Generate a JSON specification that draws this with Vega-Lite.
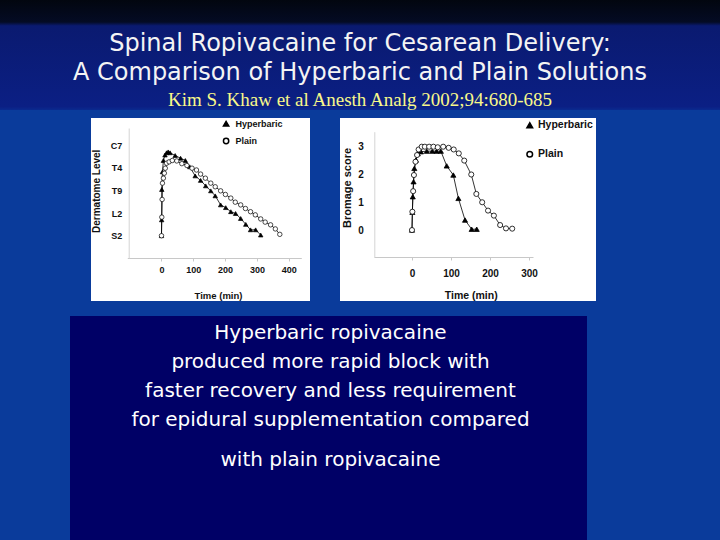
{
  "$schema": "https://vega.github.io/schema/vega-lite/v6.json",
  "background": "#0a3b9b",
  "padding": 0,
  "config": {
    "view": {"stroke": null},
    "font": "Liberation Sans"
  },
  "datasets": {
    "dermatome": [
      {"series": "Hyperbaric", "time": 0, "level": 0},
      {"series": "Hyperbaric", "time": 0.5, "level": 3.5},
      {"series": "Hyperbaric", "time": 1, "level": 10.2},
      {"series": "Hyperbaric", "time": 3, "level": 14.1},
      {"series": "Hyperbaric", "time": 6, "level": 16.6},
      {"series": "Hyperbaric", "time": 11, "level": 17.8},
      {"series": "Hyperbaric", "time": 16, "level": 18.3},
      {"series": "Hyperbaric", "time": 21, "level": 18.5},
      {"series": "Hyperbaric", "time": 27, "level": 18.3},
      {"series": "Hyperbaric", "time": 43, "level": 17.7},
      {"series": "Hyperbaric", "time": 60, "level": 17.1},
      {"series": "Hyperbaric", "time": 75, "level": 16.6},
      {"series": "Hyperbaric", "time": 89, "level": 15.2},
      {"series": "Hyperbaric", "time": 106, "level": 13.2},
      {"series": "Hyperbaric", "time": 123, "level": 12.2},
      {"series": "Hyperbaric", "time": 139, "level": 11.0},
      {"series": "Hyperbaric", "time": 155, "level": 9.9},
      {"series": "Hyperbaric", "time": 169, "level": 8.8},
      {"series": "Hyperbaric", "time": 186, "level": 6.8},
      {"series": "Hyperbaric", "time": 202, "level": 6.2},
      {"series": "Hyperbaric", "time": 218, "level": 5.3},
      {"series": "Hyperbaric", "time": 233, "level": 4.9},
      {"series": "Hyperbaric", "time": 249, "level": 3.8},
      {"series": "Hyperbaric", "time": 265, "level": 2.5},
      {"series": "Hyperbaric", "time": 280, "level": 1.3},
      {"series": "Hyperbaric", "time": 296, "level": 1.3},
      {"series": "Hyperbaric", "time": 312, "level": 0.15},
      {"series": "Plain", "time": 0, "level": 0},
      {"series": "Plain", "time": 1, "level": 4.1},
      {"series": "Plain", "time": 2, "level": 8.0},
      {"series": "Plain", "time": 3, "level": 11.6},
      {"series": "Plain", "time": 6, "level": 12.7},
      {"series": "Plain", "time": 9, "level": 13.8},
      {"series": "Plain", "time": 12, "level": 14.9},
      {"series": "Plain", "time": 16, "level": 16.0},
      {"series": "Plain", "time": 24, "level": 16.3},
      {"series": "Plain", "time": 34, "level": 16.6},
      {"series": "Plain", "time": 48, "level": 16.5},
      {"series": "Plain", "time": 64, "level": 15.9},
      {"series": "Plain", "time": 80, "level": 15.5},
      {"series": "Plain", "time": 96, "level": 14.9},
      {"series": "Plain", "time": 110, "level": 14.5},
      {"series": "Plain", "time": 123, "level": 13.6},
      {"series": "Plain", "time": 138, "level": 12.7},
      {"series": "Plain", "time": 155, "level": 11.6},
      {"series": "Plain", "time": 169, "level": 10.8},
      {"series": "Plain", "time": 186, "level": 9.9},
      {"series": "Plain", "time": 201, "level": 9.1},
      {"series": "Plain", "time": 218, "level": 8.3},
      {"series": "Plain", "time": 232, "level": 7.4},
      {"series": "Plain", "time": 249, "level": 6.8},
      {"series": "Plain", "time": 264, "level": 6.0},
      {"series": "Plain", "time": 280, "level": 5.3},
      {"series": "Plain", "time": 295, "level": 4.6},
      {"series": "Plain", "time": 312, "level": 3.7},
      {"series": "Plain", "time": 326, "level": 3.0},
      {"series": "Plain", "time": 343, "level": 2.4},
      {"series": "Plain", "time": 358, "level": 1.5},
      {"series": "Plain", "time": 372, "level": 0.3}
    ],
    "bromage": [
      {"series": "Hyperbaric", "time": 0, "score": 0},
      {"series": "Hyperbaric", "time": 1, "score": 0.64},
      {"series": "Hyperbaric", "time": 2, "score": 1.2},
      {"series": "Hyperbaric", "time": 4, "score": 1.74},
      {"series": "Hyperbaric", "time": 6, "score": 2.22},
      {"series": "Hyperbaric", "time": 10, "score": 2.52},
      {"series": "Hyperbaric", "time": 15, "score": 2.75},
      {"series": "Hyperbaric", "time": 23, "score": 2.82},
      {"series": "Hyperbaric", "time": 38, "score": 2.84},
      {"series": "Hyperbaric", "time": 52, "score": 2.84},
      {"series": "Hyperbaric", "time": 63, "score": 2.84},
      {"series": "Hyperbaric", "time": 74, "score": 2.84},
      {"series": "Hyperbaric", "time": 89, "score": 2.31},
      {"series": "Hyperbaric", "time": 106, "score": 1.98},
      {"series": "Hyperbaric", "time": 119, "score": 1.14},
      {"series": "Hyperbaric", "time": 136, "score": 0.36},
      {"series": "Hyperbaric", "time": 153, "score": 0.03},
      {"series": "Hyperbaric", "time": 166, "score": 0.03},
      {"series": "Plain", "time": 0, "score": 0},
      {"series": "Plain", "time": 1, "score": 0.66},
      {"series": "Plain", "time": 3, "score": 1.4},
      {"series": "Plain", "time": 5, "score": 1.98},
      {"series": "Plain", "time": 9, "score": 2.46},
      {"series": "Plain", "time": 13, "score": 2.7},
      {"series": "Plain", "time": 17, "score": 2.9},
      {"series": "Plain", "time": 25, "score": 3.0},
      {"series": "Plain", "time": 33, "score": 3.0},
      {"series": "Plain", "time": 44, "score": 3.0},
      {"series": "Plain", "time": 55, "score": 3.0},
      {"series": "Plain", "time": 66, "score": 2.98},
      {"series": "Plain", "time": 80, "score": 3.0},
      {"series": "Plain", "time": 94, "score": 2.96},
      {"series": "Plain", "time": 107, "score": 2.9},
      {"series": "Plain", "time": 120, "score": 2.76},
      {"series": "Plain", "time": 134, "score": 2.5},
      {"series": "Plain", "time": 152, "score": 2.0},
      {"series": "Plain", "time": 165, "score": 1.3},
      {"series": "Plain", "time": 180, "score": 1.0},
      {"series": "Plain", "time": 195, "score": 0.7},
      {"series": "Plain", "time": 210, "score": 0.52},
      {"series": "Plain", "time": 226, "score": 0.18},
      {"series": "Plain", "time": 241, "score": 0.06},
      {"series": "Plain", "time": 257, "score": 0.05}
    ],
    "summary": [
      {"line": 1, "text": "Hyperbaric ropivacaine"},
      {"line": 2, "text": "produced more rapid block with"},
      {"line": 3, "text": "faster recovery and less requirement"},
      {"line": 4, "text": "for epidural supplementation compared"},
      {"line": 5, "text": "with plain ropivacaine"}
    ]
  },
  "spacing": 8,
  "resolve": {"scale": {"shape": "independent", "fill": "independent"}},
  "vconcat": [
    {
      "width": 720,
      "height": 110,
      "view": {
        "stroke": null,
        "fill": {
          "gradient": "linear", "x1": 0, "y1": 0, "x2": 0, "y2": 1,
          "stops": [
            {"offset": 0, "color": "#02060f"},
            {"offset": 0.2, "color": "#040b24"},
            {"offset": 0.235, "color": "#0a1a70"},
            {"offset": 0.97, "color": "#0b1f84"},
            {"offset": 1, "color": "#0a2a8f"}
          ]
        }
      },
      "title": {
        "text": ["Spinal Ropivacaine for Cesarean Delivery:", "A Comparison of Hyperbaric and Plain Solutions"],
        "subtitle": "Kim S. Khaw et al Anesth Analg 2002;94:680-685",
        "orient": "top",
        "anchor": "middle",
        "frame": "group",
        "offset": -110,
        "font": "DejaVu Sans",
        "fontSize": 24,
        "fontWeight": "normal",
        "color": "#f4f4f4",
        "lineHeight": 29,
        "subtitleFont": "Liberation Serif",
        "subtitleFontSize": 19,
        "subtitleColor": "#f8f88a",
        "subtitlePadding": 6
      },
      "data": {"values": []},
      "mark": "point",
      "encoding": {}
    },
    {
      "spacing": 15,
      "resolve": {"scale": {"shape": "independent", "fill": "independent"}},
      "vconcat": [
        {
          "spacing": 30,
          "resolve": {"scale": {"shape": "independent", "fill": "independent"}},
          "hconcat": [
            {
              "width": 61,
              "height": 1,
              "data": {"values": []},
              "mark": "point",
              "encoding": {}
            },
            {
              "width": 219,
              "height": 183,
              "view": {"fill": "white", "stroke": null},
              "data": {"name": "dermatome"},
              "encoding": {
                "x": {
                  "field": "time", "type": "quantitative",
                  "scale": {"domain": [-107.5, 439.6], "range": [36.3, 210.3], "nice": false, "zero": false},
                  "axis": {
                    "orient": "bottom", "offset": -43, "values": [0, 100, 200, 300, 400],
                    "grid": false, "domainColor": "#c8c8c8", "tickColor": "#c8c8c8", "tickSize": 3,
                    "labelFont": "Liberation Sans", "labelFontWeight": "bold", "labelFontSize": 9,
                    "labelColor": "#111111", "labelPadding": 4, "labelFlush": false, "labelOverlap": false,
                    "title": "Time (min)", "titleFont": "Liberation Sans", "titleFontWeight": "bold",
                    "titleFontSize": 9.5, "titleColor": "#111111", "titleX": 127, "titleY": 37,
                    "titleBaseline": "middle", "titleAlign": "center"
                  }
                },
                "y": {
                  "field": "level", "type": "quantitative",
                  "scale": {"domain": [-4.92, 23.77], "range": [140, 10], "nice": false, "zero": false},
                  "axis": {
                    "orient": "left", "offset": -37.7, "values": [0, 5, 10, 15, 20],
                    "labelExpr": "datum.value == 0 ? 'S2' : datum.value == 5 ? 'L2' : datum.value == 10 ? 'T9' : datum.value == 15 ? 'T4' : 'C7'",
                    "grid": false, "domainColor": "#d4d4d4", "ticks": false,
                    "labelFont": "Liberation Sans", "labelFontWeight": "bold", "labelFontSize": 9,
                    "labelColor": "#111111", "labelPadding": 7, "labelOverlap": false,
                    "title": "Dermatome Level", "titleFont": "Liberation Sans", "titleFontWeight": "bold",
                    "titleFontSize": 10, "titleColor": "#111111", "titleX": -32.4, "titleY": 72.8,
                    "titleBaseline": "middle", "titleAlign": "center", "titleAngle": -90
                  }
                }
              },
              "layer": [
                {
                  "mark": {"type": "line", "color": "black", "strokeWidth": 0.8},
                  "encoding": {"detail": {"field": "series"}}
                },
                {
                  "mark": {"type": "point", "filled": true, "stroke": "black", "strokeWidth": 0.7, "size": 20, "opacity": 1},
                  "encoding": {
                    "shape": {
                      "field": "series", "type": "nominal",
                      "scale": {"domain": ["Hyperbaric", "Plain"], "range": ["triangle-up", "circle"]},
                      "legend": {
                        "orient": "none", "legendX": 130.6, "legendY": 1.2, "title": null, "padding": 0,
                        "symbolSize": 28, "labelFont": "Liberation Sans", "labelFontWeight": "bold",
                        "labelFontSize": 9, "labelColor": "#111111", "labelOffset": 5, "rowPadding": 5.3,
                        "encode": {"symbols": {"update": {"stroke": {"value": "black"}, "strokeWidth": {"value": 0.8}}}}
                      }
                    },
                    "fill": {
                      "field": "series", "type": "nominal",
                      "scale": {"domain": ["Hyperbaric", "Plain"], "range": ["black", "white"]},
                      "legend": {
                        "orient": "none", "legendX": 130.6, "legendY": 1.2, "title": null, "padding": 0,
                        "symbolSize": 28, "labelFont": "Liberation Sans", "labelFontWeight": "bold",
                        "labelFontSize": 9, "labelColor": "#111111", "labelOffset": 5, "rowPadding": 5.3,
                        "encode": {"symbols": {"update": {"stroke": {"value": "black"}, "strokeWidth": {"value": 0.8}}}}
                      }
                    }
                  }
                }
              ]
            },
            {
              "width": 256,
              "height": 183,
              "view": {"fill": "white", "stroke": null},
              "data": {"name": "bromage"},
              "encoding": {
                "x": {
                  "field": "time", "type": "quantitative",
                  "scale": {"domain": [-97.4, 310.3], "range": [34, 193], "nice": false, "zero": false},
                  "axis": {
                    "orient": "bottom", "offset": -44, "values": [0, 100, 200, 300],
                    "grid": false, "domainColor": "#c8c8c8", "tickColor": "#c8c8c8", "tickSize": 3,
                    "labelFont": "Liberation Sans", "labelFontWeight": "bold", "labelFontSize": 10,
                    "labelColor": "#111111", "labelPadding": 8, "labelFlush": false, "labelOverlap": false,
                    "title": "Time (min)", "titleFont": "Liberation Sans", "titleFontWeight": "bold",
                    "titleFontSize": 10.5, "titleColor": "#111111", "titleX": 130.7, "titleY": 38,
                    "titleBaseline": "middle", "titleAlign": "center"
                  }
                },
                "y": {
                  "field": "score", "type": "quantitative",
                  "scale": {"domain": [-0.97, 3.54], "range": [139, 13.7], "nice": false, "zero": false},
                  "axis": {
                    "orient": "left", "offset": -34.3, "values": [0, 1, 2, 3],
                    "grid": false, "domainColor": "#d4d4d4", "ticks": false,
                    "labelFont": "Liberation Sans", "labelFontWeight": "bold", "labelFontSize": 10,
                    "labelColor": "#111111", "labelPadding": 11, "labelOverlap": false,
                    "title": "Bromage score", "titleFont": "Liberation Sans", "titleFontWeight": "bold",
                    "titleFontSize": 11, "titleColor": "#111111", "titleX": -27.3, "titleY": 69.5,
                    "titleBaseline": "middle", "titleAlign": "center", "titleAngle": -90
                  }
                }
              },
              "layer": [
                {
                  "mark": {"type": "line", "color": "black", "strokeWidth": 0.8},
                  "encoding": {"detail": {"field": "series"}}
                },
                {
                  "mark": {"type": "point", "filled": true, "stroke": "black", "strokeWidth": 0.8, "size": 26, "opacity": 1},
                  "encoding": {
                    "shape": {
                      "field": "series", "type": "nominal",
                      "scale": {"domain": ["Hyperbaric", "Plain"], "range": ["triangle-up", "circle"]},
                      "legend": {
                        "orient": "none", "legendX": 184.5, "legendY": 2, "title": null, "padding": 0,
                        "symbolSize": 32, "labelFont": "Liberation Sans", "labelFontWeight": "bold",
                        "labelFontSize": 10.5, "labelColor": "#111111", "labelOffset": 3, "rowPadding": 17,
                        "encode": {"symbols": {"update": {"stroke": {"value": "black"}, "strokeWidth": {"value": 0.8}}}}
                      }
                    },
                    "fill": {
                      "field": "series", "type": "nominal",
                      "scale": {"domain": ["Hyperbaric", "Plain"], "range": ["black", "white"]},
                      "legend": {
                        "orient": "none", "legendX": 184.5, "legendY": 2, "title": null, "padding": 0,
                        "symbolSize": 32, "labelFont": "Liberation Sans", "labelFontWeight": "bold",
                        "labelFontSize": 10.5, "labelColor": "#111111", "labelOffset": 3, "rowPadding": 17,
                        "encode": {"symbols": {"update": {"stroke": {"value": "black"}, "strokeWidth": {"value": 0.8}}}}
                      }
                    }
                  }
                }
              ]
            }
          ]
        },
        {
          "spacing": 30,
          "hconcat": [
            {
              "width": 40,
              "height": 1,
              "data": {"values": []},
              "mark": "point",
              "encoding": {}
            },
            {
              "width": 517,
              "height": 224,
              "view": {"fill": "#000066", "stroke": null},
              "data": {"name": "summary"},
              "mark": {"type": "text", "font": "DejaVu Sans", "fontSize": 20, "color": "white", "baseline": "middle", "align": "center", "dx": 2},
              "encoding": {
                "y": {"field": "line", "type": "quantitative", "scale": {"domain": [1, 4, 5], "range": [17, 104, 144]}, "axis": null},
                "text": {"field": "text"}
              }
            }
          ]
        }
      ]
    }
  ]
}
